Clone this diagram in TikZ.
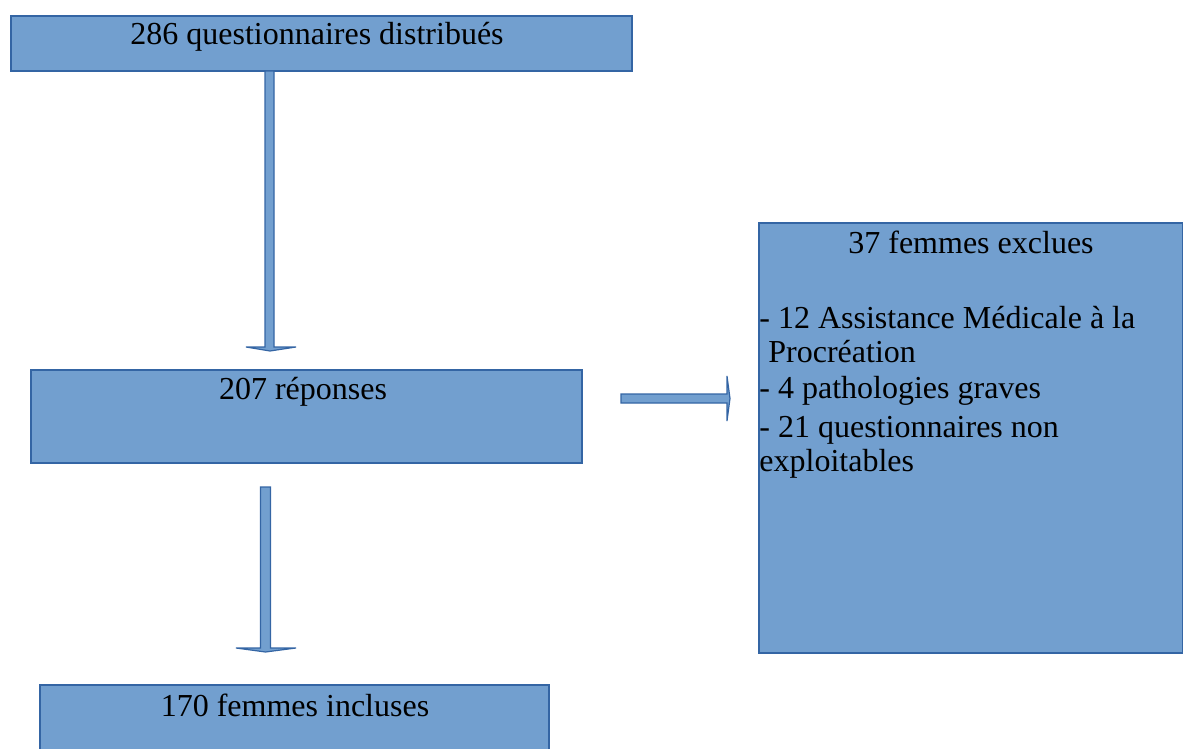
\documentclass[tikz,border=0pt]{standalone}
\usepackage{fontspec}
\setmainfont{Liberation Serif}
\definecolor{boxfill}{HTML}{729FCF}
\definecolor{boxline}{HTML}{3465A4}
\begin{document}
\begin{tikzpicture}[x=0.5pt,y=-0.5pt,
  box/.style={draw=boxline, line width=0.6pt, fill=boxfill, inner sep=0pt, outer sep=0pt},
  blockarrow/.style={draw=boxline, line width=0.6pt, fill=boxfill},
  txt/.style={inner sep=0pt, anchor=base, font=\fontsize{16}{18}\selectfont},
  ltxt/.style={inner sep=0pt, anchor=base west, font=\fontsize{16}{18}\selectfont}]
\useasboundingbox (0,0) rectangle (1183,749);
% boxes
\node[box, minimum width=310.5pt, minimum height=27.5pt] (b1) at (321.5,43.5) {};
\node[box, minimum width=275.5pt, minimum height=46.5pt] (b2) at (306.5,416.5) {};
\node[box, minimum width=212pt, minimum height=215pt] (b3) at (971,438) {};
\node[box, minimum width=254.5pt, minimum height=34pt] (b4) at (294.5,719) {};
% texts
\node[txt] (t1) at (317,45) {286 questionnaires distribués};
\node[txt] (t2) at (303,399) {207 réponses};
\node[txt] (t4) at (295,716) {170 femmes incluses};
\node[txt] (t3) at (971,253) {37 femmes exclues};
\node[ltxt] (l1) at (759,328) {- 12 Assistance Médicale à la};
\node[ltxt] (l2) at (768,362) {Procréation};
\node[ltxt] (l3) at (759,398) {- 4 pathologies graves};
\node[ltxt] (l4) at (759,437) {- 21 questionnaires non};
\node[ltxt] (l5) at (759,471) {exploitables};
% block arrows
\coordinate (a1s) at (b1.south);
\draw[blockarrow] (265,71) -- (274,71) -- (274,347) -- (296,347) -- (270,351) -- (246,347) -- (265,347) -- cycle;
\draw[blockarrow] (621,394) -- (727,394) -- (727,376) -- (730,398.5) -- (727,421) -- (727,403) -- (621,403) -- cycle;
\draw[blockarrow] (260.5,487) -- (270.5,487) -- (270.5,648) -- (296,648) -- (265.5,652) -- (236,648) -- (260.5,648) -- cycle;
\end{tikzpicture}
\end{document}
